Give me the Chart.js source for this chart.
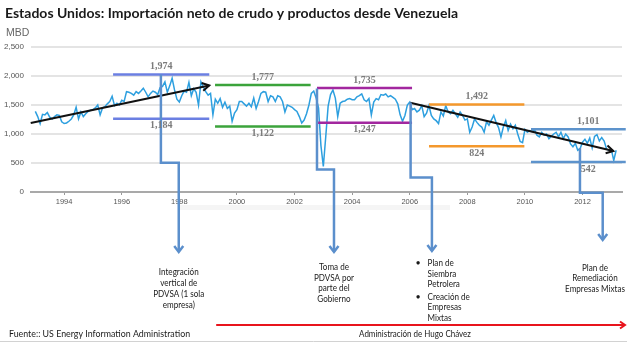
<!DOCTYPE html>
<html>
<head>
<meta charset="utf-8">
<script src="https://cdn.jsdelivr.net/npm/chart.js@4.4.1/dist/chart.umd.min.js"></script>
<style>
  html, body { margin: 0; padding: 0; background: #fff; }
</style>
</head>
<body>
<canvas id="chart" width="627" height="344"></canvas>
<script>
// US net imports of crude and products from Venezuela, MBD, monthly from Jan 1993
const startYear = 1993;
const imp1993 = [1390, 1300, 1180, 1340, 1330, 1370, 1290, 1260, 1300, 1330, 1320, 1210];
const imp1994 = [1180, 1190, 1220, 1260, 1330, 1460, 1260, 1380, 1300, 1350, 1390, 1410];
const imp1995 = [1420, 1450, 1500, 1330, 1450, 1470, 1520, 1560, 1650, 1490, 1530, 1500];
const imp1996 = [1580, 1560, 1730, 1720, 1700, 1670, 1730, 1700, 1740, 1790, 1720, 1640];
const imp1997 = [1700, 1740, 1720, 1680, 1800, 1820, 1900, 1720, 1830, 1960, 1760, 1600];
const imp1998 = [1550, 1660, 1740, 1720, 1890, 1660, 1780, 1720, 1500, 1900, 1810, 1730];
const imp1999 = [1670, 1700, 1330, 1600, 1530, 1610, 1460, 1550, 1440, 1480, 1220, 1360];
const imp2000 = [1420, 1560, 1560, 1520, 1480, 1530, 1470, 1620, 1440, 1560, 1700, 1730];
const imp2001 = [1720, 1560, 1660, 1640, 1560, 1660, 1640, 1560, 1380, 1500, 1480, 1460];
const imp2002 = [1420, 1390, 1300, 1190, 1240, 1350, 1500, 1700, 1740, 1620, 1450, 800];
const imp2003 = [440, 950, 1480, 1680, 1760, 1620, 1300, 1530, 1560, 1570, 1600, 1610];
const imp2004 = [1590, 1590, 1640, 1660, 1690, 1590, 1560, 1610, 1330, 1550, 1610, 1590];
const imp2005 = [1680, 1670, 1690, 1640, 1660, 1630, 1600, 1520, 1330, 1220, 1320, 1500];
const imp2006 = [1550, 1420, 1440, 1380, 1410, 1490, 1300, 1360, 1490, 1320, 1260, 1230];
const imp2007 = [1180, 1380, 1310, 1490, 1380, 1350, 1410, 1350, 1290, 1380, 1320, 1240];
const imp2008 = [1260, 1030, 1120, 1260, 1200, 1150, 1120, 1030, 1210, 1150, 1240, 1320];
const imp2009 = [1200, 1110, 950, 1120, 1230, 1060, 1170, 1090, 1150, 1000, 870, 850];
const imp2010 = [1080, 1030, 1060, 1040, 1070, 980, 950, 1030, 980, 1000, 920, 960];
const imp2011 = [1000, 1030, 950, 1030, 920, 1000, 950, 830, 780, 840, 720, 750];
const imp2012 = [860, 910, 840, 930, 760, 960, 990, 880, 940, 880, 740, 720];
const imp2013 = [730, 545, 720];

const imports = [].concat(imp1993, imp1994, imp1995, imp1996, imp1997, imp1998, imp1999,
  imp2000, imp2001, imp2002, imp2003, imp2004, imp2005, imp2006, imp2007, imp2008,
  imp2009, imp2010, imp2011, imp2012, imp2013);

const xTicks = [1994, 1996, 1998, 2000, 2002, 2004, 2006, 2008, 2010, 2012];
const yTicks = [0, 500, 1000, 1500, 2000, 2500];

// range bands: drawn levels and their labels
const bandFrom = [1995.70, 1999.24, 2002.78, 2006.67, 2010.21];
const bandTo = [1999.04, 2002.56, 2006.08, 2009.98, 2013.50];
const bandHigh = [2027, 1843, 1791, 1510, 1080];
const bandLow = [1264, 1131, 1195, 787, 517];
const highLabels = ['1,974', '1,777', '1,735', '1,492', '1,101'];
const lowLabels = ['1,184', '1,122', '1,247', '824', '542'];

// trend arrows [x0, y0, x1, y1]
const trends = [
  [1992.84, 1188, 1999.04, 1837],
  [2006.02, 1539, 2013.07, 706]
];

const title = 'Estados Unidos: Importación neto de crudo y productos desde Venezuela';
const source = 'Fuente:: US Energy Information Administration';
const eraLabel = 'Administración de Hugo Chávez';

const events = [
  { year: 1997.36, top: 2027, knee: 506, turn: 1997.98, drop: 60,
    lines: ['Integración', 'vertical de', 'PDVSA (1 sola', 'empresa)'] },
  { year: 2002.78, top: 1786, knee: 386, turn: 2003.37, drop: 60,
    lines: ['Toma de', 'PDVSA por', 'parte del', 'Gobierno'] },
  { year: 2006.03, top: 1545, knee: 248, turn: 2006.77, drop: 59,
    bullets: [['Plan de', 'Siembra', 'Petrolera'], ['Creación de', 'Empresas', 'Mixtas']] },
  { year: 2011.91, top: 760, knee: -15, turn: 2012.70, drop: 48,
    lines: ['Plan de', 'Remediación', 'Empresas Mixtas'] }
];

const bandColors = ['#6b7fe2', '#3ba33b', '#a2279f', '#f4982c', '#5d93cc'];

function seg(ctx, x0, y0, x1, y1) {
  ctx.beginPath(); ctx.moveTo(x0, y0); ctx.lineTo(x1, y1); ctx.stroke();
}
function chevron(ctx, x, y, ang, len, half) {
  const c = Math.cos(ang), s = Math.sin(ang);
  ctx.beginPath();
  ctx.moveTo(x - c * len - s * half, y - s * len + c * half);
  ctx.lineTo(x, y);
  ctx.lineTo(x - c * len + s * half, y - s * len - c * half);
  ctx.stroke();
}
// narrow text, the source used a condensed face
function narrowText(ctx, text, x, y, squeeze) {
  ctx.save();
  ctx.translate(x, y);
  ctx.scale(squeeze, 1);
  ctx.fillText(text, 0, 0);
  ctx.restore();
}

const overlay = {
  id: 'overlay',
  beforeDraw(chart) {
    const { ctx } = chart;
    ctx.save();
    ctx.fillStyle = '#f5f5f5';
    ctx.fillRect(180, 205, 270, 5);
    ctx.restore();
  },
  afterDatasetsDraw(chart) {
    const { ctx, chartArea: area, scales: { x, y } } = chart;
    ctx.save();
    ctx.lineCap = 'butt';

    // bands
    bandFrom.forEach((f, i) => {
      const x0 = x.getPixelForValue(f), x1 = x.getPixelForValue(bandTo[i]);
      const yh = y.getPixelForValue(bandHigh[i]), yl = y.getPixelForValue(bandLow[i]);
      ctx.strokeStyle = bandColors[i];
      ctx.lineWidth = 2.5;
      seg(ctx, x0, yh, x1, yh);
      seg(ctx, x0, yl, x1, yl);
    });

    // trend arrows
    ctx.strokeStyle = '#111';
    ctx.lineWidth = 2;
    trends.forEach(t => {
      const x0 = x.getPixelForValue(t[0]), y0 = y.getPixelForValue(t[1]);
      const x1 = x.getPixelForValue(t[2]), y1 = y.getPixelForValue(t[3]);
      seg(ctx, x0, y0, x1, y1);
      chevron(ctx, x1, y1, Math.atan2(y1 - y0, x1 - x0), 7, 4);
    });

    // event connectors
    ctx.strokeStyle = '#5b8fcc';
    ctx.lineWidth = 2.5;
    events.forEach(e => {
      const xa = x.getPixelForValue(e.year), xb = x.getPixelForValue(e.turn);
      const yt = y.getPixelForValue(e.top), yk = y.getPixelForValue(e.knee);
      const tip = area.bottom + e.drop;
      ctx.beginPath();
      ctx.moveTo(xa, yt); ctx.lineTo(xa, yk); ctx.lineTo(xb, yk); ctx.lineTo(xb, tip);
      ctx.stroke();
      chevron(ctx, xb, tip, Math.PI / 2, 6, 4.5);
    });

    // band labels
    ctx.fillStyle = '#7b7b7b';
    ctx.font = 'bold 10px "Liberation Serif"';
    ctx.textAlign = 'center';
    ctx.textBaseline = 'middle';
    bandFrom.forEach((f, i) => {
      let lx = x.getPixelForValue((f + bandTo[i]) / 2);
      if (i === 4) lx += 10;
      ctx.fillText(highLabels[i], lx, y.getPixelForValue(bandHigh[i]) - 8);
      ctx.fillText(lowLabels[i], lx, y.getPixelForValue(bandLow[i]) + 7);
    });

    // event texts
    ctx.fillStyle = '#1a1a1a';
    ctx.font = '9px Lato';
    const sq = 0.9;
    events.forEach((e, i) => {
      const xb = x.getPixelForValue(e.turn);
      const tip = area.bottom + e.drop;
      if (e.lines) {
        const cx = i === 3 ? xb - 7.7 : xb;
        const first = i === 0 ? 20 : i === 1 ? 15 : 27.7;
        const step = i === 0 ? 11 : 10.6;
        ctx.textAlign = 'center';
        e.lines.forEach((l, k) => narrowText(ctx, l, cx, tip + first + k * step, sq));
      } else {
        let ly = tip + 12.3;
        e.bullets.forEach(group => {
          ctx.textAlign = 'center';
          ctx.fillText('•', xb - 13.7, ly);
          ctx.textAlign = 'left';
          group.forEach(l => { narrowText(ctx, l, xb - 4.3, ly, sq); ly += 10.6; });
          ly += 1.8;
        });
      }
    });

    // title, unit, footer
    ctx.textAlign = 'left';
    ctx.textBaseline = 'alphabetic';
    ctx.fillStyle = '#1a1a1a';
    ctx.font = 'bold 14px Lato';
    ctx.fillText(title, 5, 18);
    ctx.fillStyle = '#666';
    ctx.font = '10.5px "Liberation Sans"';
    ctx.fillText('MBD', 6, 36);

    ctx.textBaseline = 'middle';
    ctx.fillStyle = '#1a1a1a';
    ctx.font = '9.5px Lato';
    narrowText(ctx, source, 9, 334, 0.93);
    ctx.textAlign = 'center';
    narrowText(ctx, eraLabel, 415, 334, 0.84);

    // Chavez era arrow
    const rx0 = x.getPixelForValue(1999.28);
    ctx.strokeStyle = '#e8141c';
    ctx.lineWidth = 2;
    seg(ctx, rx0, 325, 625, 325);
    chevron(ctx, 625, 325, 0, 5, 3.5);

    // frame bottom
    ctx.strokeStyle = '#d2d2d2';
    ctx.lineWidth = 1;
    seg(ctx, 0, 341.5, 627, 341.5);
    ctx.restore();
  }
};

new Chart(document.getElementById('chart'), {
  type: 'line',
  data: {
    datasets: [{
      data: imports.map((v, i) => ({ x: startYear + i / 12, y: v })),
      borderColor: '#2d9fdf',
      borderWidth: 1.5,
      pointRadius: 0,
      tension: 0,
      fill: false
    }]
  },
  options: {
    responsive: false,
    animation: false,
    devicePixelRatio: 1,
    layout: { padding: { top: 47, right: 5, left: 0, bottom: 0 } },
    plugins: { legend: { display: false }, tooltip: { enabled: false } },
    scales: {
      x: {
        type: 'linear',
        min: 1992.85,
        max: 2013.37,
        afterFit(s) { s.height = 152; },
        afterBuildTicks(s) { s.ticks = xTicks.map(v => ({ value: v })); },
        grid: { drawOnChartArea: false, drawTicks: true, tickLength: 3, color: '#999' },
        border: { display: true, color: '#a9a9a9', width: 2 },
        ticks: {
          callback: v => String(v),
          autoSkip: false, maxRotation: 0, padding: 2,
          color: '#555', font: { family: 'Liberation Sans', size: 7.5 }
        }
      },
      y: {
        min: 0,
        max: 2500,
        afterFit(s) { s.width = 31; },
        afterBuildTicks(s) { s.ticks = yTicks.map(v => ({ value: v })); },
        grid: { color: '#e4e4e4', lineWidth: 2, drawTicks: false },
        border: { display: false },
        ticks: {
          padding: 7,
          callback: v => v.toLocaleString('en-US'),
          color: '#555', font: { family: 'Liberation Sans', size: 8 }
        }
      }
    }
  },
  plugins: [overlay]
});
</script>
</body>
</html>
